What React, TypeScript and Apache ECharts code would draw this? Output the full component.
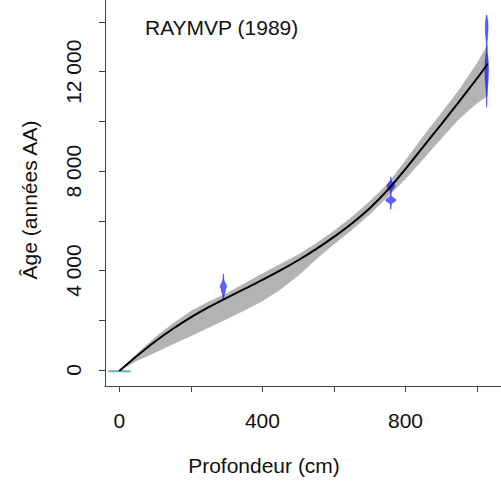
import React, { useEffect, useRef } from "react";
import * as echarts from "echarts";

// Age-depth model (depth in cm, age in cal BP)
const depths = [0, 50, 100, 150, 200, 250, 300, 350, 400, 450, 500, 550, 600, 650, 700, 750, 800, 850, 900, 950, 1000, 1030];
const ageBest = [-40, 570, 1145, 1660, 2120, 2530, 2905, 3265, 3625, 4005, 4415, 4865, 5355, 5895, 6510, 7235, 8085, 8985, 9885, 10800, 11730, 12320];
const ageOld = [-30, 670, 1315, 1880, 2370, 2760, 3085, 3485, 3885, 4265, 4645, 5095, 5605, 6165, 6790, 7495, 8435, 9415, 10335, 11280, 12350, 13100];
const ageYoung = [-50, 370, 695, 1040, 1360, 1700, 2045, 2395, 2765, 3225, 3795, 4445, 5055, 5635, 6260, 6955, 7685, 8485, 9305, 10100, 10730, 11020];

// Calibrated date distributions (half-widths in cm)
const dateADepth = 291;
const dateAAges = [3860, 3700, 3600, 3500, 3420, 3350, 3280, 3200, 3100, 3000, 2900, 2820];
const dateAWidths = [0.5, 1, 2, 5, 8, 9, 7, 6, 4, 2, 1, 0.5];

const dateBDepth = 759;
const dateBAges = [7760, 7650, 7580, 7500, 7420, 7340, 7260, 7180, 7100, 7020, 6960, 6900, 6840, 6780, 6720, 6650, 6550, 6470];
const dateBWidths = [0.5, 1, 3, 8, 11, 10, 5, 1.5, 1, 1.5, 4, 10, 15, 12, 4, 1.5, 0.8, 0.5];

const dateCDepth = 1027;
const dateCAges = [14280, 14150, 14000, 13800, 13600, 13400, 13200, 13000, 12800, 12600, 12400, 12200, 12000, 11800, 11600, 11400, 11100, 10800, 10580];
const dateCWidths = [0.5, 2, 3.5, 4, 3.5, 2.5, 1.2, 1, 1.2, 3, 4.5, 5, 5, 4.5, 4, 2.5, 1, 0.7, 0.5];

const surfaceDepths = [-31, 32];
const surfaceAge = -50;

const xTicks = [0, 200, 400, 600, 800, 1000];
const xLabels = [0, 400, 800];
const yTicks = [0, 2000, 4000, 6000, 8000, 10000, 12000, 14000];
const yLabels = [0, 4000, 8000, 12000];

const FONT = "'Liberation Sans', Arial, sans-serif";
const AXIS = "#444";
const TEXT = "#111";

function fmt(v: number) {
  return String(v).replace(/\B(?=(\d{3})+(?!\d))/g, " ");
}

function violinSeries(depth: number, ages: number[], widths: number[]) {
  return {
    type: "custom",
    silent: true,
    clip: true,
    z: 3,
    data: [[depth, ages[0]]],
    encode: { x: 0, y: 1 },
    renderItem: (_p: any, api: any) => {
      const pts: number[][] = [];
      for (let i = 0; i < ages.length; i++) pts.push(api.coord([depth + widths[i], ages[i]]));
      for (let i = ages.length - 1; i >= 0; i--) pts.push(api.coord([depth - widths[i], ages[i]]));
      return {
        type: "polygon",
        shape: { points: pts },
        style: { fill: "rgba(0,0,255,0.62)", stroke: "rgba(0,0,255,0.45)", lineWidth: 0.8 },
      };
    },
  };
}

export default function App() {
  const ref = useRef<HTMLDivElement>(null);
  useEffect(() => {
    if (!ref.current) return;
    const chart = echarts.init(ref.current, undefined, { renderer: "svg" });
    const option: any = {
      animation: false,
      backgroundColor: "#fff",
      grid: { left: 105, right: 0, top: 0, bottom: 98 },
      xAxis: {
        type: "value",
        min: -40,
        max: 1067,
        splitLine: { show: false },
        axisLine: { show: true, onZero: false, lineStyle: { color: AXIS, width: 1 } },
        axisTick: { show: true, customValues: xTicks, length: 6, lineStyle: { color: AXIS } },
        axisLabel: {
          customValues: xLabels,
          margin: 24,
          fontSize: 21,
          fontFamily: FONT,
          color: TEXT,
          formatter: (v: number) => fmt(v),
        },
      },
      yAxis: {
        type: "value",
        min: -644,
        max: 14885,
        splitLine: { show: false },
        axisLine: { show: true, onZero: false, lineStyle: { color: AXIS, width: 1 } },
        axisTick: { show: true, customValues: yTicks, length: 6, lineStyle: { color: AXIS } },
        axisLabel: {
          customValues: yLabels,
          rotate: 90,
          margin: 21,
          fontSize: 21,
          fontFamily: FONT,
          color: TEXT,
          formatter: (v: number) => fmt(v),
        },
      },
      graphic: [
        { type: "text", x: 145, y: 27, style: { text: "RAYMVP (1989)", fontSize: 21, fontFamily: FONT, fill: TEXT, textAlign: "left", textVerticalAlign: "middle" } },
        { type: "text", x: 264, y: 465, style: { text: "Profondeur (cm)", fontSize: 21, fontFamily: FONT, fill: TEXT, textAlign: "center", textVerticalAlign: "middle" } },
        { type: "text", x: 29, y: 200, rotation: Math.PI / 2, style: { text: "Âge (années AA)", fontSize: 21, fontFamily: FONT, fill: TEXT, textAlign: "center", textVerticalAlign: "middle" } },
      ],
      series: [
        {
          type: "custom",
          silent: true,
          clip: true,
          z: 1,
          data: [[depths[0], ageBest[0]]],
          encode: { x: 0, y: 1 },
          renderItem: (_p: any, api: any) => {
            const pts: number[][] = [];
            for (let i = 0; i < depths.length; i++) pts.push(api.coord([depths[i], ageOld[i]]));
            for (let i = depths.length - 1; i >= 0; i--) pts.push(api.coord([depths[i], ageYoung[i]]));
            return { type: "polygon", shape: { points: pts }, style: { fill: "#b3b3b3" } };
          },
        },
        violinSeries(dateADepth, dateAAges, dateAWidths),
        violinSeries(dateBDepth, dateBAges, dateBWidths),
        violinSeries(dateCDepth, dateCAges, dateCWidths),
        {
          type: "line",
          z: 4,
          silent: true,
          symbol: "none",
          data: surfaceDepths.map((d) => [d, surfaceAge]),
          lineStyle: { color: "#5fb5b5", width: 2 },
        },
        {
          type: "line",
          z: 5,
          silent: true,
          symbol: "none",
          smooth: 0.3,
          data: depths.map((d, i) => [d, ageBest[i]]),
          lineStyle: { color: "#000", width: 2 },
        },
      ],
    };
    chart.setOption(option);
    return () => chart.dispose();
  }, []);
  return <div ref={ref} style={{ position: "absolute", left: 0, top: 0, width: 501, height: 484 }} />;
}
